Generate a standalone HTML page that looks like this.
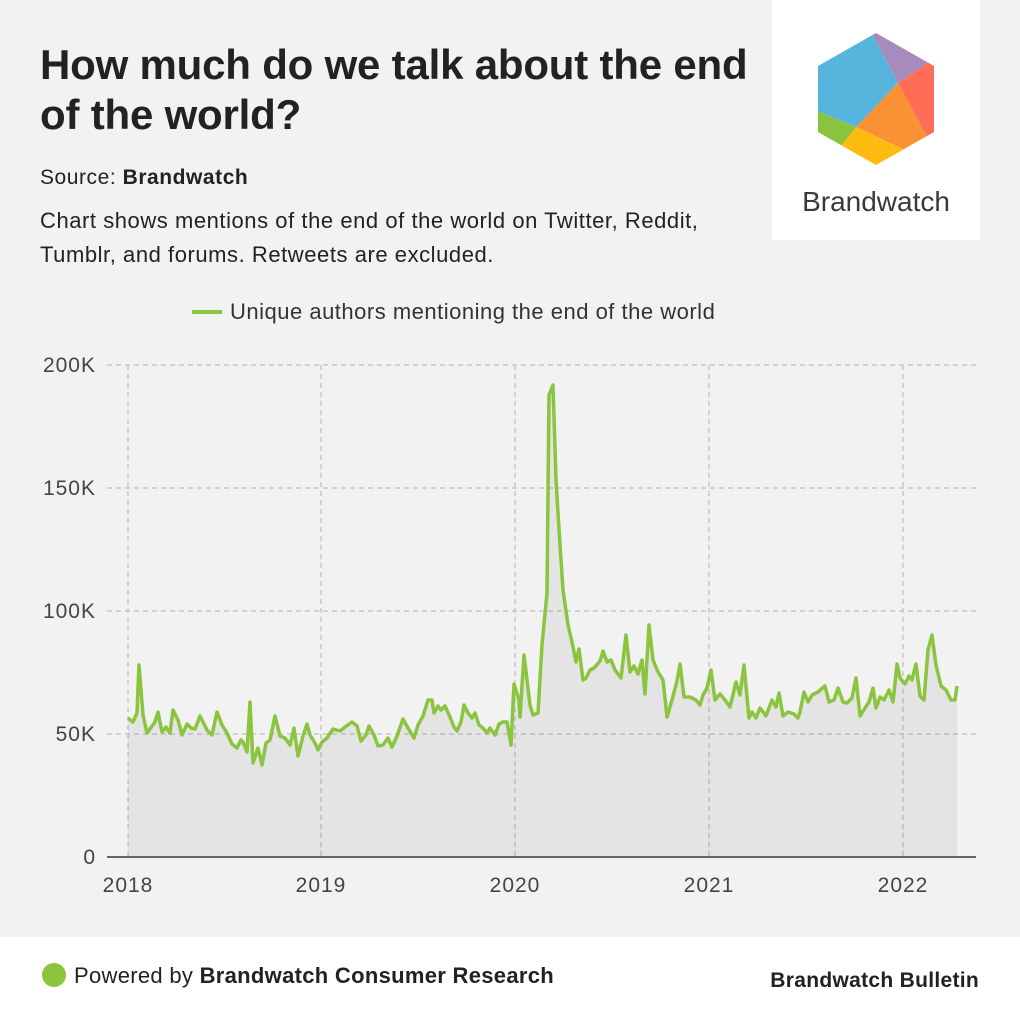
<!DOCTYPE html>
<html><head><meta charset="utf-8"><style>
body{margin:0;width:1020px;height:1020px;background:#f2f2f2;font-family:"Liberation Sans",sans-serif;position:relative;overflow:hidden;color:#222}
.t{position:absolute;left:40px;top:40px;font-size:42px;font-weight:bold;line-height:50px;color:#222;letter-spacing:-0.2px;white-space:nowrap}
.s{position:absolute;left:40px;font-size:21px;color:#222;letter-spacing:0.55px;white-space:nowrap}
.logo{position:absolute;left:772px;top:0;width:208px;height:240px;background:#fff}
.foot{position:absolute;left:0;top:937px;width:1020px;height:83px;background:#fff}
</style></head><body>
<div class="t">How much do we talk about the end<br>of the world?</div>
<div class="s" style="top:166px">Source: <b>Brandwatch</b></div>
<div class="s" style="top:204px;line-height:34px;font-size:22px">Chart shows mentions of the end of the world on Twitter, Reddit,<br>Tumblr, and forums. Retweets are excluded.</div>
<div class="logo"></div>
<svg width="1020" height="1020" style="position:absolute;left:0;top:0">
<defs><clipPath id="hx"><polygon points="876,33 934,66 934,132 876,165 818,132 818,66"/></clipPath></defs>
<g clip-path="url(#hx)">
<polygon points="800,20 870,30 898,83 856,127 810,108" fill="#55b5dc"/>
<polygon points="870,30 940,55 898,83" fill="#a78bbd"/>
<polygon points="940,55 940,140 927,137 898,83" fill="#fe6e57"/>
<polygon points="898,83 927,137 940,140 905,150 856,127" fill="#f89234"/>
<polygon points="856,127 905,150 876,175 838,150" fill="#febc11"/>
<polygon points="810,108 856,127 838,150 810,140" fill="#8ac43f"/>
</g>
<text x="876" y="211" text-anchor="middle" font-size="28" fill="#3a3a3a">Brandwatch</text>
<line x1="192" y1="312" x2="222" y2="312" stroke="#8bc43f" stroke-width="4"/>
<text x="230" y="319" font-size="22" fill="#333" letter-spacing="0.5">Unique authors mentioning the end of the world</text>
<g stroke="#c8c8c8" stroke-width="1.5" stroke-dasharray="5,4">
<line x1="107" y1="365" x2="976" y2="365"/><line x1="107" y1="488" x2="976" y2="488"/><line x1="107" y1="611" x2="976" y2="611"/><line x1="107" y1="734" x2="976" y2="734"/>
<line x1="128" y1="365" x2="128" y2="857"/><line x1="321" y1="365" x2="321" y2="857"/><line x1="515" y1="365" x2="515" y2="857"/><line x1="709" y1="365" x2="709" y2="857"/><line x1="903" y1="365" x2="903" y2="857"/>
</g>
<g font-size="21" fill="#444" text-anchor="end" letter-spacing="1">
<text x="96" y="372">200K</text><text x="96" y="495">150K</text><text x="96" y="618">100K</text><text x="96" y="741">50K</text><text x="96" y="864">0</text></g>
<g font-size="21" fill="#444" text-anchor="middle" letter-spacing="1">
<text x="128" y="892">2018</text><text x="321" y="892">2019</text><text x="515" y="892">2020</text><text x="709" y="892">2021</text><text x="903" y="892">2022</text></g>
<path fill="rgba(0,0,0,0.055)" stroke="none" d="M128,857 L128,718 133,722 137,713 139,665 143,715 147,733 155,722 158,712 162,732 166,727 170,733 173,710 178,720 182,735 187,724 191,728 195,729 200,716 207,730 212,735 217,712 222,725 227,733 232,744 237,748 241,740 243,742 247,752 250,702 253,763 258,748 262,765 266,743 270,740 275,716 280,736 285,738 290,745 294,728 298,756 303,736 307,724 310,735 315,743 318,750 322,742 327,738 333,729 340,731 345,727 352,722 357,726 361,741 366,735 369,726 374,735 378,746 383,745 388,738 392,747 397,736 403,719 408,728 414,738 418,725 423,716 428,700 432,700 434,713 438,706 441,710 445,706 450,717 454,727 457,731 461,722 464,705 468,713 472,718 475,713 479,725 483,728 487,733 490,728 495,735 499,724 503,722 507,722 511,745 514,684 519,700 520,717 524,655 530,705 533,715 538,713 542,645 547,593 549,395 553,385 556,480 560,545 563,590 568,625 572,642 576,662 579,649 583,680 586,678 590,670 594,668 600,661 603,651 607,662 611,660 615,670 621,678 626,635 630,672 634,666 638,674 642,660 645,694 649,625 653,660 658,672 663,680 667,717 672,700 677,681 680,664 684,697 690,697 696,700 700,705 703,695 707,688 711,670 715,700 720,694 725,700 730,707 736,682 740,695 744,665 749,718 752,712 756,718 760,708 766,716 772,700 776,707 779,693 783,716 788,712 794,714 798,718 800,712 804,692 808,702 812,695 818,692 825,686 829,702 834,700 838,688 843,702 847,703 852,698 856,678 860,716 865,708 869,702 873,688 876,708 880,697 884,700 889,690 893,702 897,664 900,678 905,684 909,676 912,680 916,664 920,696 924,700 928,650 932,635 936,665 941,686 946,690 951,700 955,700 957,686 L957,857 Z"/>
<polyline fill="none" stroke="#8bc43f" stroke-width="3.5" stroke-linejoin="round" points="128,718 133,722 137,713 139,665 143,715 147,733 155,722 158,712 162,732 166,727 170,733 173,710 178,720 182,735 187,724 191,728 195,729 200,716 207,730 212,735 217,712 222,725 227,733 232,744 237,748 241,740 243,742 247,752 250,702 253,763 258,748 262,765 266,743 270,740 275,716 280,736 285,738 290,745 294,728 298,756 303,736 307,724 310,735 315,743 318,750 322,742 327,738 333,729 340,731 345,727 352,722 357,726 361,741 366,735 369,726 374,735 378,746 383,745 388,738 392,747 397,736 403,719 408,728 414,738 418,725 423,716 428,700 432,700 434,713 438,706 441,710 445,706 450,717 454,727 457,731 461,722 464,705 468,713 472,718 475,713 479,725 483,728 487,733 490,728 495,735 499,724 503,722 507,722 511,745 514,684 519,700 520,717 524,655 530,705 533,715 538,713 542,645 547,593 549,395 553,385 556,480 560,545 563,590 568,625 572,642 576,662 579,649 583,680 586,678 590,670 594,668 600,661 603,651 607,662 611,660 615,670 621,678 626,635 630,672 634,666 638,674 642,660 645,694 649,625 653,660 658,672 663,680 667,717 672,700 677,681 680,664 684,697 690,697 696,700 700,705 703,695 707,688 711,670 715,700 720,694 725,700 730,707 736,682 740,695 744,665 749,718 752,712 756,718 760,708 766,716 772,700 776,707 779,693 783,716 788,712 794,714 798,718 800,712 804,692 808,702 812,695 818,692 825,686 829,702 834,700 838,688 843,702 847,703 852,698 856,678 860,716 865,708 869,702 873,688 876,708 880,697 884,700 889,690 893,702 897,664 900,678 905,684 909,676 912,680 916,664 920,696 924,700 928,650 932,635 936,665 941,686 946,690 951,700 955,700 957,686"/>
<line x1="107" y1="857" x2="976" y2="857" stroke="#666" stroke-width="2"/>
</svg>
<div class="foot"></div>
<svg width="1020" height="1020" style="position:absolute;left:0;top:0">
<circle cx="54" cy="975" r="12" fill="#8bc43f"/>
<text x="74" y="983" font-size="22" fill="#222" letter-spacing="0.3">Powered by <tspan font-weight="bold">Brandwatch Consumer Research</tspan></text>
<text x="979" y="987" font-size="21" font-weight="bold" fill="#222" text-anchor="end" letter-spacing="0.3">Brandwatch Bulletin</text>
</svg>
</body></html>
